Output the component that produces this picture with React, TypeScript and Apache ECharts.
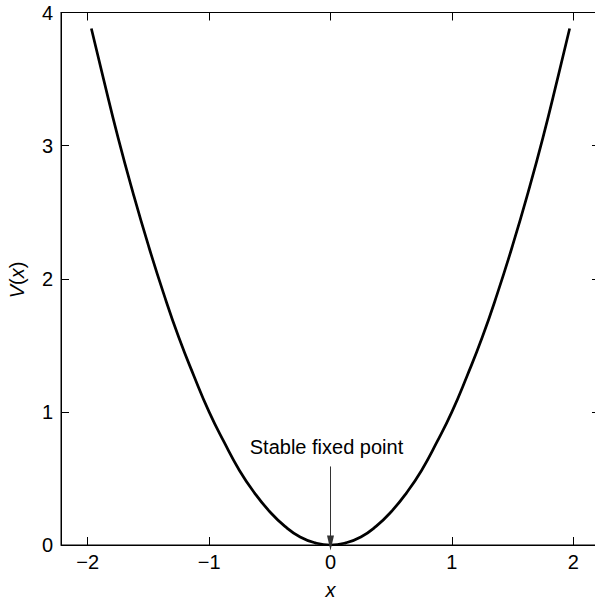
import React, { useEffect, useRef } from "react";
import * as echarts from "echarts";

const xValues = [
  -1.97, -1.875, -1.75, -1.625, -1.5, -1.375, -1.25, -1.125, -1.0, -0.875, -0.75, -0.625, -0.5, -0.375, -0.25,
  -0.125, 0, 0.125, 0.25, 0.375, 0.5, 0.625, 0.75, 0.875, 1.0, 1.125, 1.25, 1.375, 1.5, 1.625, 1.75, 1.875, 1.97,
];
const vValues = [
  3.88, 3.52, 3.06, 2.64, 2.25, 1.89, 1.56, 1.27, 1.0, 0.77, 0.56, 0.39, 0.25, 0.14, 0.06, 0.016, 0, 0.016,
  0.06, 0.14, 0.25, 0.39, 0.56, 0.77, 1.0, 1.27, 1.56, 1.89, 2.25, 2.64, 3.06, 3.52, 3.88,
];
const xTicks = [-2, -1, 0, 1, 2];
const annotationText = "Stable fixed point";
const arrowX = 0;
const arrowTop = 0.59;
const arrowTip = 0.015;
const yTitle = "{i|V}({i|x})";
const xTitle = "x";

const FONT = "'Liberation Sans', Arial, Helvetica, sans-serif";
const fmt = (v: number) => String(v).replace("-", "\u2212");

const mkLine = () => ({ show: true, onZero: false, lineStyle: { color: "#000", width: 1 } });
const mkTick = () => ({ show: true, inside: true, length: 8, lineStyle: { color: "#000", width: 1 } });

export default function App() {
  const ref = useRef<HTMLDivElement>(null);
  useEffect(() => {
    if (!ref.current) return;
    const chart = echarts.init(ref.current, undefined, { renderer: "svg" });
    chart.setOption({
      animation: false,
      grid: {
        left: 61,
        right: -5,
        top: 12.5,
        bottom: 56,
        outerBoundsMode: "none",
        show: true,
        borderColor: "#000",
        borderWidth: 1,
        backgroundColor: "transparent",
      },
      graphic: [
        {
          type: "text",
          x: 17,
          y: 280,
          rotation: Math.PI / 2,
          style: {
            text: yTitle,
            fontSize: 20,
            fontFamily: FONT,
            fill: "#000",
            align: "center",
            verticalAlign: "middle",
            rich: { i: { fontStyle: "italic", fontSize: 20, fontFamily: FONT, fill: "#000" } },
          },
        },
      ],
      xAxis: [
        {
          type: "value",
          min: -2.22,
          max: 2.22,
          position: "bottom",
          axisLine: mkLine(),
          axisTick: { ...mkTick(), customValues: xTicks },
          splitLine: { show: false },
          axisLabel: {
            customValues: xTicks,
            formatter: fmt,
            color: "#000",
            fontSize: 20,
            fontFamily: FONT,
            margin: 7,
          },
          name: xTitle,
          nameLocation: "middle",
          nameGap: 35,
          nameTextStyle: { fontSize: 20, fontStyle: "italic", color: "#000", fontFamily: FONT },
        },
        {
          type: "value",
          min: -2.22,
          max: 2.22,
          position: "top",
          axisLine: mkLine(),
          axisTick: { ...mkTick(), customValues: xTicks },
          splitLine: { show: false },
          axisLabel: { show: false },
        },
      ],
      yAxis: [
        {
          type: "value",
          min: 0,
          max: 4,
          interval: 1,
          position: "left",
          axisLine: mkLine(),
          axisTick: mkTick(),
          splitLine: { show: false },
          axisLabel: { color: "#000", fontSize: 20, fontFamily: FONT, margin: 8 },
        },
        {
          type: "value",
          min: 0,
          max: 4,
          interval: 1,
          position: "right",
          axisLine: mkLine(),
          axisTick: mkTick(),
          splitLine: { show: false },
          axisLabel: { show: false },
        },
      ],
      series: [
        {
          type: "line",
          data: xValues.map((x, i) => [x, vValues[i]]),
          smooth: true,
          showSymbol: false,
          symbol: "none",
          lineStyle: { color: "#000", width: 2.7 },
          markLine: {
            silent: true,
            symbol: ["none", "triangle"],
            symbolSize: [7, 15],
            lineStyle: { color: "#333", width: 1, type: "solid" },
            label: {
              show: true,
              position: "start",
              distance: 9,
              offset: [-4, 0],
              formatter: annotationText,
              color: "#000",
              fontSize: 20,
              fontFamily: FONT,
            },
            data: [[{ coord: [arrowX, arrowTop] }, { coord: [arrowX, arrowTip] }]],
          },
        },
      ],
    });
    return () => chart.dispose();
  }, []);
  return (
    <div
      ref={ref}
      style={{ position: "fixed", left: 0, top: 0, width: 595, height: 601, background: "#fff" }}
    />
  );
}
